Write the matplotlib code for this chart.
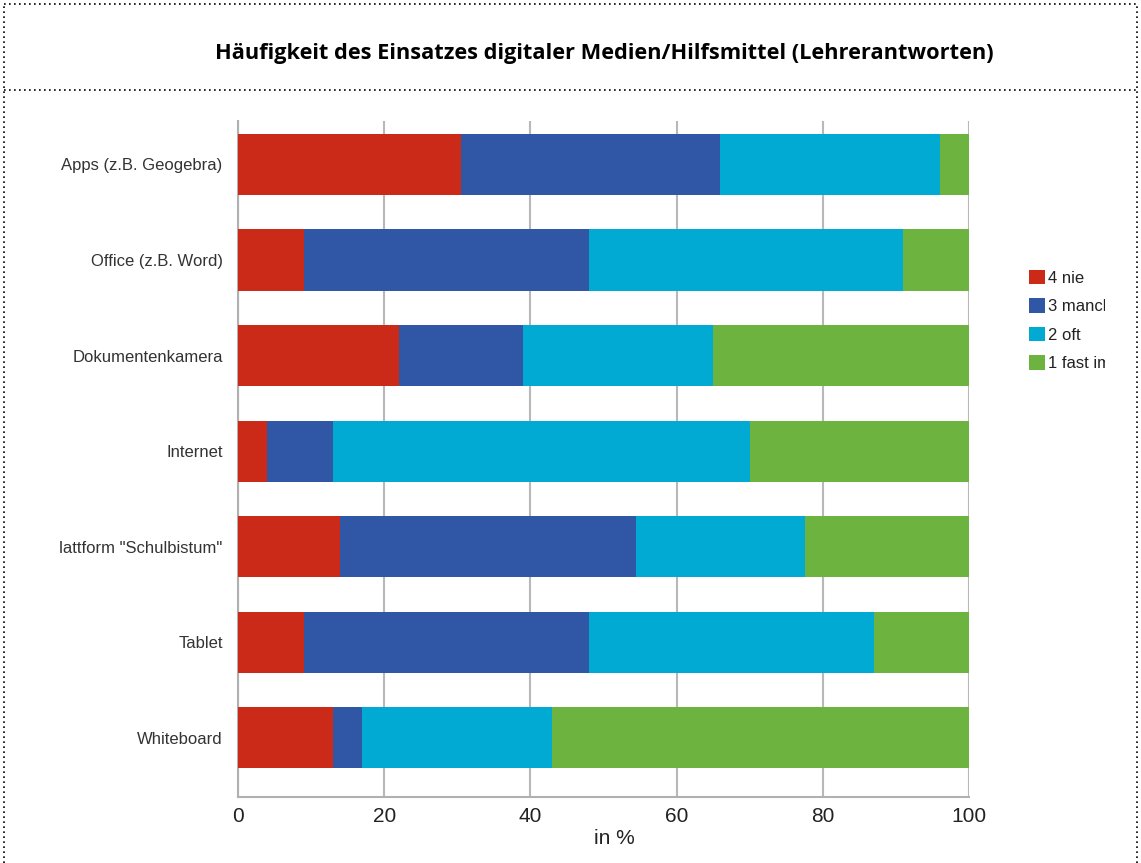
import matplotlib
matplotlib.use("Agg")
import matplotlib.pyplot as plt
import numpy as np
from matplotlib.lines import Line2D
from matplotlib.transforms import Bbox, TransformedBbox

# Categories, top to bottom as in the chart
categories = [
    "Apps (z.B. Geogebra)",
    "Office (z.B. Word)",
    "Dokumentenkamera",
    "Internet",
    'Plattform "Schulbistum"',
    "Tablet",
    "Whiteboard",
]
series_names = ["4 nie", "3 manchmal", "2 oft", "1 fast immer"]

# percentages per category, in the order of `categories`
nie = [30.5, 9, 22, 4, 14, 9, 13]
manchmal = [35.5, 39, 17, 9, 40.5, 39, 4]
oft = [30, 43, 26, 57, 23, 39, 26]
fast_immer = [4, 9, 35, 30, 22.5, 13, 57]

colors = ["#cc2a18", "#2f57a6", "#00aad2", "#6cb33f"]

W, H = 1141, 863
fig = plt.figure(figsize=(W / 100, H / 100), dpi=100)
ax = fig.add_axes([238 / W, 66 / H, 731 / W, 676 / H])

ypos = np.arange(len(categories))[::-1]
left = np.zeros(len(categories))
for name, vals, col in zip(series_names, [nie, manchmal, oft, fast_immer], colors):
    ax.barh(ypos, vals, left=left, height=0.64, color=col, label=name, zorder=3)
    left += np.array(vals)

ax.set_xlim(0, 100)
ax.set_ylim(-0.62, len(categories) - 1 + 0.455)
ax.set_xticks([0, 20, 40, 60, 80, 100])
ax.set_yticks(ypos)
ax.set_yticklabels(categories, fontsize=12, color="#333333", family="Liberation Sans")
ax.tick_params(axis="y", length=0, pad=11)
ax.tick_params(axis="x", length=0, labelsize=15, labelcolor="#222222", pad=7)
for lab in ax.get_xticklabels():
    lab.set_family("Liberation Sans")
ax.set_xlabel("in %", fontsize=15, family="Liberation Sans", color="#222222", labelpad=4)
ax.xaxis.set_label_coords((614 - 238) / 731, -0.048)
ax.grid(axis="x", color="#b8b8b8", linewidth=1.5, zorder=0)
for s in ["top", "right"]:
    ax.spines[s].set_visible(False)
for s in ["left", "bottom"]:
    ax.spines[s].set_color("#b0b0b0")
    ax.spines[s].set_linewidth(1.5)

# the chart picture was cropped on both sides
clip = TransformedBbox(Bbox.from_extents(60 / W, 0, 1105 / W, 1), fig.transFigure)
for lab in ax.get_yticklabels():
    lab.set_clip_box(clip)
    lab.set_clip_on(True)

leg = ax.legend(loc="upper left", bbox_to_anchor=(1029 / W, 1 - 270 / H),
                bbox_transform=fig.transFigure, frameon=False, fontsize=12,
                handlelength=0.96, handleheight=0.96, handletextpad=0.15,
                labelspacing=0.75, borderpad=0, borderaxespad=0)
for t in leg.get_texts():
    t.set_family("Liberation Sans")
    t.set_color("#222222")
    t.set_clip_box(clip)
    t.set_clip_on(True)

fig.text(604 / W, 1 - 59 / H,
         "Häufigkeit des Einsatzes digitaler Medien/Hilfsmittel (Lehrerantworten)",
         ha="center", va="baseline", fontsize=15.7, fontweight="bold", family="Open Sans")

# dotted frame around title and chart
dot = dict(color="black", linewidth=1.2, linestyle=(0, (1, 2)), transform=fig.transFigure)
xl, xr, yt, ys = 4 / W, 1137 / W, 1 - 4 / H, 1 - 90 / H
fig.add_artist(Line2D([xl, xr], [yt, yt], **dot))
fig.add_artist(Line2D([xl, xr], [ys, ys], **dot))
fig.add_artist(Line2D([xl, xl], [0, yt], **dot))
fig.add_artist(Line2D([xr, xr], [0, yt], **dot))

fig.savefig("out.png", dpi=100)
